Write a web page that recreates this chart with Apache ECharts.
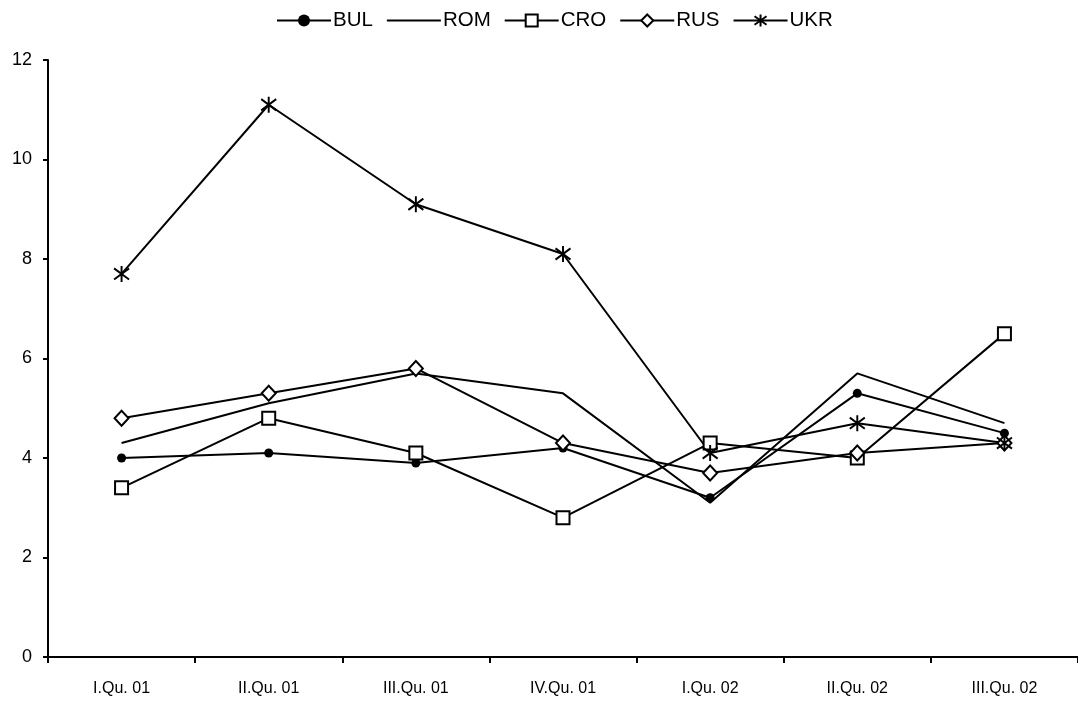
<!DOCTYPE html>
<html><head><meta charset="utf-8">
<script src="https://cdn.jsdelivr.net/npm/echarts@6/dist/echarts.min.js"></script>
<style>html,body{margin:0;padding:0;background:#fff}#c{width:1078px;height:704px}</style>
</head><body><div id="c"></div>
<script>
const categories = ['I.Qu. 01','II.Qu. 01','III.Qu. 01','IV.Qu. 01','I.Qu. 02','II.Qu. 02','III.Qu. 02'];
const BUL = [4.0, 4.1, 3.9, 4.2, 3.2, 5.3, 4.5];
const ROM = [4.3, 5.1, 5.7, 5.3, 3.1, 5.7, 4.7];
const CRO = [3.4, 4.8, 4.1, 2.8, 4.3, 4.0, 6.5];
const RUS = [4.8, 5.3, 5.8, 4.3, 3.7, 4.1, 4.3];
const UKR = [7.7, 11.1, 9.1, 8.1, 4.1, 4.7, 4.3];
const yTicks = [0, 2, 4, 6, 8, 10, 12];

const star = 'path://M0,-10L0,10M-8,-7L8,7M-8,7L8,-7';
const base = {type:'line', lineStyle:{color:'#000', width:2}, itemStyle:{color:'#000'}, z:2};
const font = 'Liberation Sans, Arial, sans-serif';
const chart = echarts.init(document.getElementById('c'));
chart.setOption({
  animation:false,
  backgroundColor:'#fff',
  textStyle:{fontFamily:font, color:'#000'},
  legend:{
    top:5, left:271, itemWidth:54, itemHeight:15, itemGap:13,
    textStyle:{fontSize:20.5, color:'#000', fontFamily:font, padding:[0,0,0,-3]},
    data:['BUL', {name:'ROM', itemStyle:{opacity:0}}, 'CRO', 'RUS', 'UKR']
  },
  grid:{left:48, right:-3, top:60, bottom:47, containLabel:false},
  xAxis:{
    type:'category', data:categories, boundaryGap:true,
    axisLine:{lineStyle:{color:'#000', width:2}},
    axisTick:{show:true, inside:false, length:6, lineStyle:{color:'#000', width:2}},
    axisLabel:{color:'#000', fontSize:16, margin:24, fontFamily:font},
    splitLine:{show:false}
  },
  yAxis:{
    type:'value', min:0, max:12, interval:2,
    axisLine:{show:true, lineStyle:{color:'#000', width:2}},
    axisTick:{show:true, length:5, lineStyle:{color:'#000', width:2}},
    axisLabel:{color:'#000', fontSize:18, margin:16, formatter:v=>yTicks.includes(v)?String(v):''},
    splitLine:{show:false}
  },
  series:[
    Object.assign({}, base, {name:'BUL', data:BUL, symbol:'circle', symbolSize:9, itemStyle:{color:'#000'}}),
    Object.assign({}, base, {name:'ROM', data:ROM, symbol:'none', showSymbol:false}),
    Object.assign({}, base, {name:'CRO', data:CRO, symbol:'rect', symbolSize:13, itemStyle:{color:'#fff', borderColor:'#000', borderWidth:2}}),
    Object.assign({}, base, {name:'RUS', data:RUS, symbol:'diamond', symbolSize:[14,15], itemStyle:{color:'#fff', borderColor:'#000', borderWidth:2}}),
    Object.assign({}, base, {name:'UKR', data:UKR, symbol:star, symbolSize:[15,16], itemStyle:{color:'none', borderColor:'#000', borderWidth:2}})
  ]
});
</script></body></html>
